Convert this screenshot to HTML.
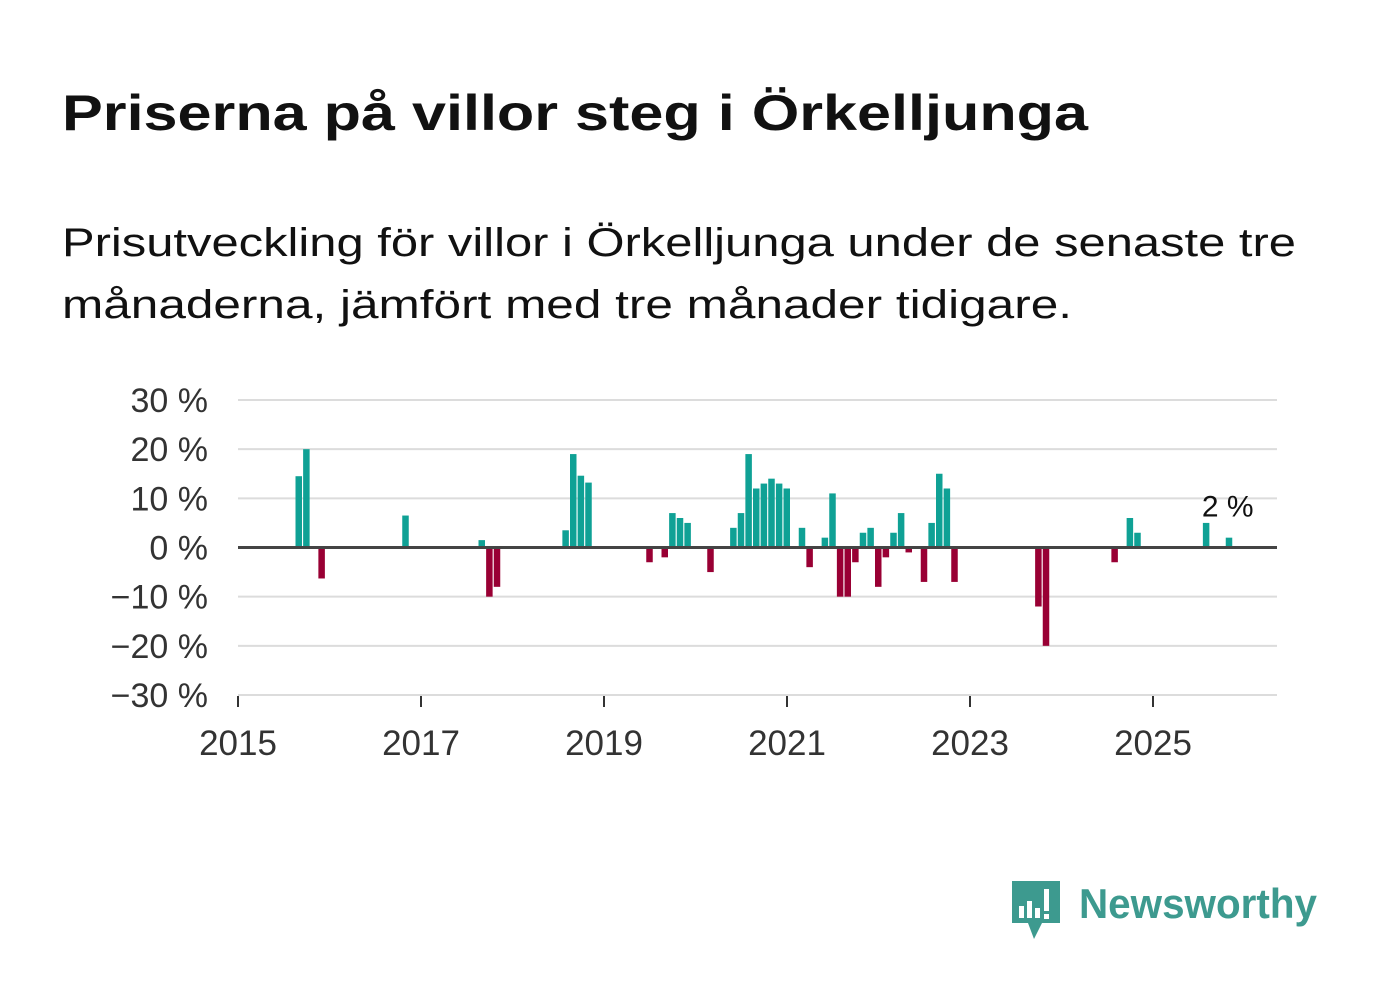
<!DOCTYPE html>
<html><head><meta charset="utf-8"><style>
html,body{margin:0;padding:0;background:#fff;}
svg{display:block;font-family:"Liberation Sans",sans-serif;}
</style></head><body>
<svg id="chart" width="1382" height="999" viewBox="0 0 1382 999">
<text x="62" y="130" font-size="50" font-weight="bold" fill="#111" textLength="1026" lengthAdjust="spacingAndGlyphs">Priserna på villor steg i Örkelljunga</text>
<text x="62" y="256" font-size="40" fill="#111" textLength="1234" lengthAdjust="spacingAndGlyphs">Prisutveckling för villor i Örkelljunga under de senaste tre</text>
<text x="62" y="318" font-size="40" fill="#111" textLength="1010" lengthAdjust="spacingAndGlyphs">månaderna, jämfört med tre månader tidigare.</text>
<g id="grid"></g><g id="bars"></g><g id="axes"></g>
<g>
<path d="M1012 881 h48 v42 h-18 l-8 16 l-6 -16 h-16 z" fill="#3d9a8f"/>
<rect x="1019" y="906" width="5" height="12" fill="#fff"/>
<rect x="1027" y="901" width="5" height="17" fill="#fff"/>
<rect x="1035" y="908" width="5" height="10" fill="#fff"/>
<rect x="1044" y="889" width="5" height="22" fill="#fff"/>
<rect x="1044" y="914" width="5" height="5" fill="#fff"/>
<text x="1079" y="918" font-size="42" font-weight="bold" fill="#3d9a8f" textLength="238" lengthAdjust="spacingAndGlyphs">Newsworthy</text>
</g>
</svg>
<script>
// month index from Jan 2015
const months = [8,9,11,22,32,33,34,43,44,45,46,54,56,57,58,59,62,65,66,67,68,69,70,71,72,74,75,77,78,79,80,81,82,83,84,85,86,87,88,90,91,92,93,94,105,106,115,117,118,127,130];
const values = [14.5,20,-6.3,6.5,1.5,-10,-8,3.5,19,14.6,13.2,-3,-2,7,6,5,-5,4,7,19,12,13,14,13,12,4,-4,2,11,-10,-10,-3,3,4,-8,-2,3,7,-1,-7,5,15,12,-7,-12,-20,-3,6,3,5,2];
const yTicks = [30,20,10,0,-10,-20,-30];
const xTickYears = [2015,2017,2019,2021,2023,2025];
const NS="http://www.w3.org/2000/svg";
const x0=237.5, pxPerMonth=7.625, yZero=547.5, pxPerPct=4.917;
const X=m=>x0+m*pxPerMonth;
const Y=v=>yZero-v*pxPerPct;
function mk(tag,attrs,parent){const e=document.createElementNS(NS,tag);for(const k in attrs)e.setAttribute(k,attrs[k]);parent.appendChild(e);return e;}
const grid=document.getElementById('grid'),bars=document.getElementById('bars'),axes=document.getElementById('axes');
yTicks.forEach(t=>{
  if(t!==0){const l=mk('line',{x1:238,x2:1277,y1:Y(t),y2:Y(t),stroke:'#dcdcdc','stroke-width':2},grid);
  
  }
  const tx=mk('text',{x:208,y:Y(t)+12,'font-size':34,fill:'#333','text-anchor':'end'},axes);
  tx.textContent=(t<0?'\u2212'+(-t):t)+' %';
  
  
});
months.forEach((m,i)=>{
  const v=values[i];
  const r=mk('rect',{x:X(m)-3,width:6.5,y:v>=0?Y(v):yZero,height:Math.abs(v)*pxPerPct,fill:v>=0?'#0fa195':'#990034'},bars);
  
  
});
const z=mk('line',{x1:238,x2:1277,y1:yZero,y2:yZero,stroke:'#444','stroke-width':3},axes);


xTickYears.forEach(yr=>{
  const x=X((yr-2015)*12)+0.5;
  const t=mk('line',{x1:x,x2:x,y1:696,y2:707,stroke:'#333','stroke-width':2},axes);
  
  
  const tx=mk('text',{x:x,y:755,'font-size':35,fill:'#333','text-anchor':'middle'},axes);
  tx.textContent=yr;
  
  
});
const lastI=months.length-1;
const lab=mk('text',{x:X(months[lastI])-1,y:Y(values[lastI])-21,'font-size':30,fill:'#111','text-anchor':'middle'},axes);
lab.textContent=values[lastI]+' %';


</script>
</body></html>
